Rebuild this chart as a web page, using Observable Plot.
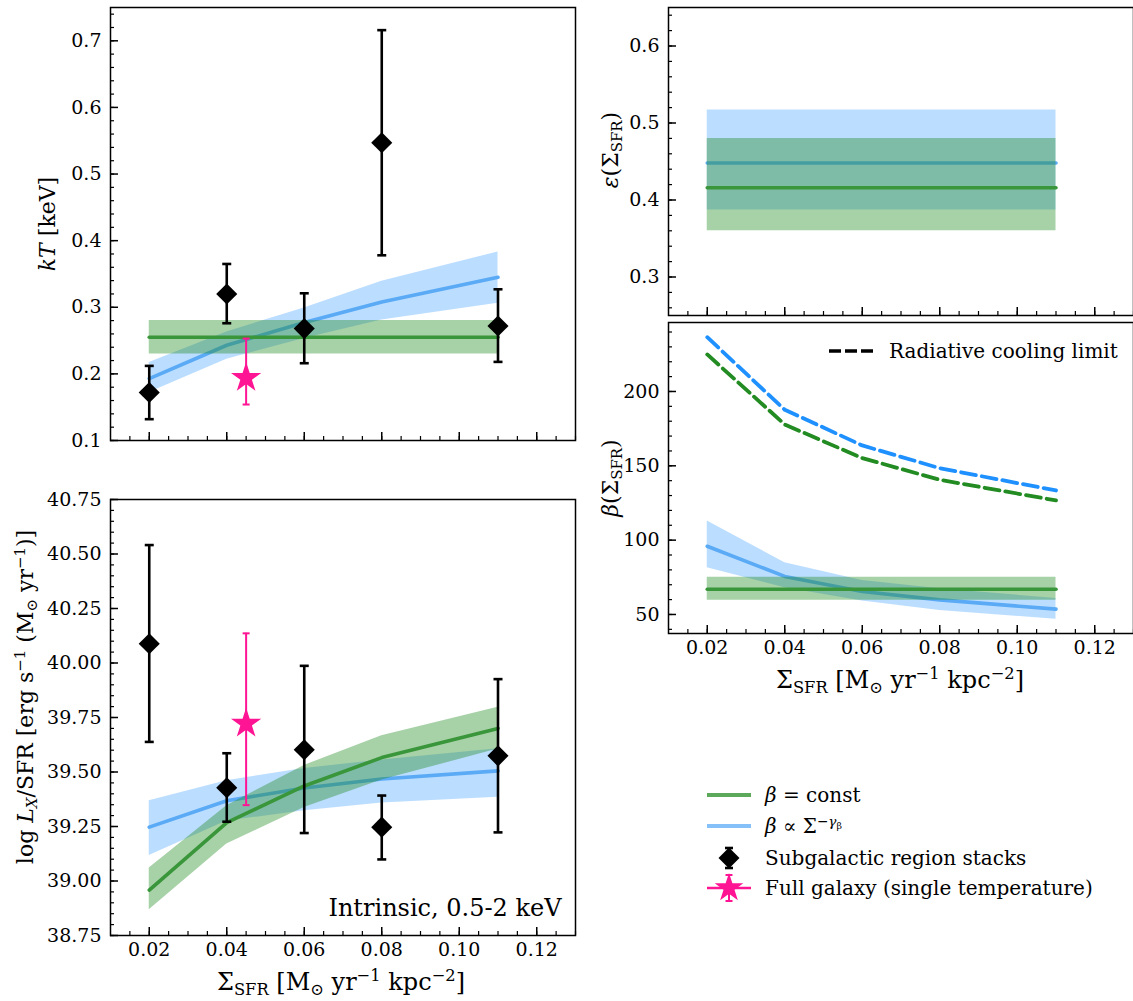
<!DOCTYPE html>
<html><head><meta charset="utf-8">
<script src="https://cdn.jsdelivr.net/npm/d3@7"></script>
<script src="https://cdn.jsdelivr.net/npm/@observablehq/plot@0.6"></script>
<style>
body{margin:0;background:#fff;}
#wrap{position:relative;width:1133px;height:1001px;overflow:hidden;font-family:"DejaVu Serif",serif;color:#000;background:#fff;}
#wrap svg.pl{position:absolute;}
.lab{position:absolute;white-space:nowrap;font-size:22px;line-height:1;}
.rot{transform:translate(-50%,-50%) rotate(-90deg);}
.hz{transform:translate(-50%,-50%);}
sub{font-size:0.68em;vertical-align:-0.3em;line-height:0;}
sup{font-size:0.68em;vertical-align:0.55em;line-height:0;}
.leg{position:absolute;font-size:20px;line-height:1;white-space:nowrap;}
.leg svg{position:absolute;}
</style></head><body><div id="wrap"></div>
<script>
// ---------------- data ----------------
const xStack = [0.02, 0.04, 0.06, 0.08, 0.11];
const xFull = [0.045];
const xModel = [0.02, 0.04, 0.06, 0.08, 0.11];

// kT panel
const kT     = [0.172, 0.320, 0.268, 0.547, 0.272];
const kTLo   = [0.132, 0.276, 0.216, 0.378, 0.218];
const kTHi   = [0.212, 0.365, 0.321, 0.716, 0.327];
const kTFull = [0.194], kTFullLo = [0.154], kTFullHi = [0.253];
const kTConst   = [0.255, 0.255, 0.255, 0.255, 0.255];
const kTConstLo = [0.230, 0.230, 0.230, 0.230, 0.230];
const kTConstHi = [0.280, 0.280, 0.280, 0.280, 0.280];
const kTPow   = [0.193, 0.243, 0.277, 0.308, 0.345];
const kTPowLo = [0.172, 0.222, 0.253, 0.281, 0.306];
const kTPowHi = [0.217, 0.263, 0.299, 0.339, 0.383];

// log Lx/SFR panel
const lx     = [40.088, 39.428, 39.602, 39.247, 39.574];
const lxLo   = [39.638, 39.272, 39.220, 39.099, 39.223];
const lxHi   = [40.541, 39.586, 39.987, 39.392, 39.926];
const lxFull = [39.722], lxFullLo = [39.348], lxFullHi = [40.136];
const lxConst   = [38.958, 39.268, 39.436, 39.566, 39.700];
const lxConstLo = [38.868, 39.170, 39.337, 39.463, 39.605];
const lxConstHi = [39.060, 39.345, 39.530, 39.666, 39.797];
const lxPow   = [39.247, 39.368, 39.427, 39.468, 39.505];
const lxPowLo = [39.117, 39.275, 39.322, 39.358, 39.384];
const lxPowHi = [39.368, 39.460, 39.516, 39.555, 39.607];

// epsilon panel
const epsConst   = [0.416, 0.416, 0.416, 0.416, 0.416];
const epsConstLo = [0.360, 0.360, 0.360, 0.360, 0.360];
const epsConstHi = [0.480, 0.480, 0.480, 0.480, 0.480];
const epsPow   = [0.448, 0.448, 0.448, 0.448, 0.448];
const epsPowLo = [0.387, 0.387, 0.387, 0.387, 0.387];
const epsPowHi = [0.517, 0.517, 0.517, 0.517, 0.517];

// beta panel
const betaConst   = [67.0, 67.0, 67.0, 67.0, 67.0];
const betaConstLo = [59.6, 59.6, 59.6, 59.6, 59.6];
const betaConstHi = [75.1, 75.1, 75.1, 75.1, 75.1];
const betaPow   = [95.9, 75.6, 65.5, 59.8, 53.6];
const betaPowLo = [81.4, 68.0, 59.0, 52.7, 46.8];
const betaPowHi = [112.8, 84.8, 72.9, 67.3, 60.8];
const coolConst = [224.9, 177.8, 155.2, 140.6, 126.7];
const coolPow   = [236.5, 187.7, 163.7, 148.4, 133.4];

// ticks
const xTicks = [0.02, 0.04, 0.06, 0.08, 0.10, 0.12];
const kTTicks = [0.1, 0.2, 0.3, 0.4, 0.5, 0.6, 0.7];
const lxTicks = [38.75, 39.00, 39.25, 39.50, 39.75, 40.00, 40.25, 40.50, 40.75];
const epsTicks = [0.3, 0.4, 0.5, 0.6];
const betaTicks = [50, 100, 150, 200];

// ---------------- helpers ----------------
const BLUE_BAND = "dodgerblue", GREEN_BAND = "forestgreen";
const BLUE_LINE = "#5aaaf5", GREEN_LINE = "#3a963a";
const PINK = "#ff1493";

const rows = (xs, cols) => xs.map((x, i) => {
  const r = {x};
  for (const k in cols) r[k] = cols[k][i];
  return r;
});
const cap = {draw(ctx, size) { const w = Math.sqrt(size / Math.PI); ctx.moveTo(-w, 0); ctx.lineTo(w, 0); }};

function axes(xMin, yMaj, yMin, yFmt, xLabels) {
  const m = [
    Plot.axisX(xMin, {anchor: "bottom", tickSize: -4, tickFormat: () => "", strokeWidth: 1.2, label: null}),
    Plot.axisX(xTicks, {anchor: "bottom", tickSize: -8, tickFormat: () => "", strokeWidth: 1.5, label: null}),
    Plot.axisY(yMin, {anchor: "left", tickSize: -4, tickFormat: () => "", strokeWidth: 1.2, label: null}),
    Plot.axisY(yMaj, {anchor: "left", tickSize: -8, tickFormat: () => "", strokeWidth: 1.5, label: null}),
    Plot.axisY(yMaj, {anchor: "left", tickSize: 0, tickPadding: 9, tickFormat: yFmt, fontSize: 19, label: null})
  ];
  if (xLabels) m.push(Plot.axisX(xTicks, {anchor: "bottom", tickSize: 0, tickPadding: 7, tickFormat: d3.format(".2f"), fontSize: 19, label: null}));
  m.push(Plot.frame({stroke: "black", strokeWidth: 1.5}));
  return m;
}
function band(data, color, op) { return Plot.areaY(data, {x: "x", y1: "lo", y2: "hi", fill: color, fillOpacity: op}); }
function line(data, color, extra = {}) { return Plot.lineY(data, {x: "x", y: "v", stroke: color, strokeWidth: 3.6, ...extra}); }
function errs(data, color, w, capR, symbol, r) {
  return [
    Plot.ruleX(data, {x: "x", y1: "lo", y2: "hi", stroke: color, strokeWidth: w}),
    Plot.dot(data, {x: "x", y: "lo", symbol: cap, r: capR, stroke: color, strokeWidth: w, fill: "none"}),
    Plot.dot(data, {x: "x", y: "hi", symbol: cap, r: capR, stroke: color, strokeWidth: w, fill: "none"}),
    Plot.dot(data, {x: "x", y: "v", symbol, r, fill: color, stroke: "none"})
  ];
}
const xMinor = d3.range(0.015, 0.1301, 0.005);
const xDomain = [0.01, 0.13];
const wrap = document.getElementById("wrap");
function place(svg, left, top) {
  svg.classList.add("pl");
  svg.style.left = left + "px"; svg.style.top = top + "px";
  wrap.appendChild(svg);
}
const style = {fontFamily: "DejaVu Serif", fontSize: "19px", background: "transparent", overflow: "visible", color: "black"};

// ---------------- top-left: kT ----------------
place(Plot.plot({
  width: 590, height: 470, marginLeft: 110, marginRight: 15, marginTop: 7, marginBottom: 30,
  style,
  x: {domain: xDomain}, y: {domain: [0.1, 0.75]},
  marks: [
    band(rows(xModel, {lo: kTPowLo, hi: kTPowHi}), BLUE_BAND, 0.3),
    line(rows(xModel, {v: kTPow}), BLUE_LINE),
    band(rows(xModel, {lo: kTConstLo, hi: kTConstHi}), GREEN_BAND, 0.4),
    line(rows(xModel, {v: kTConst}), GREEN_LINE),
    ...errs(rows(xStack, {v: kT, lo: kTLo, hi: kTHi}), "black", 2.6, 4.5, "diamond2", 9.5),
    ...errs(rows(xFull, {v: kTFull, lo: kTFullLo, hi: kTFullHi}), PINK, 2, 3.5, "star", 9.5),
    ...axes(xMinor, kTTicks, d3.range(0.1, 0.7501, 0.02), d3.format(".1f"), false)
  ]
}), 0, 0);

// ---------------- bottom-left: Lx/SFR ----------------
place(Plot.plot({
  width: 590, height: 500, marginLeft: 110, marginRight: 15, marginTop: 19, marginBottom: 45,
  style,
  x: {domain: xDomain}, y: {domain: [38.75, 40.75]},
  marks: [
    band(rows(xModel, {lo: lxPowLo, hi: lxPowHi}), BLUE_BAND, 0.3),
    line(rows(xModel, {v: lxPow}), BLUE_LINE),
    band(rows(xModel, {lo: lxConstLo, hi: lxConstHi}), GREEN_BAND, 0.4),
    line(rows(xModel, {v: lxConst}), GREEN_LINE),
    ...errs(rows(xStack, {v: lx, lo: lxLo, hi: lxHi}), "black", 2.6, 4.5, "diamond2", 9.5),
    ...errs(rows(xFull, {v: lxFull, lo: lxFullLo, hi: lxFullHi}), PINK, 2, 3.5, "star", 9.5),
    ...axes(xMinor, lxTicks, d3.range(38.75, 40.7501, 0.05), d3.format(".2f"), true)
  ]
}), 0, 480);

// ---------------- top-right: epsilon ----------------
place(Plot.plot({
  width: 553, height: 330, marginLeft: 88, marginRight: 0, marginTop: 7, marginBottom: 15,
  style,
  x: {domain: xDomain}, y: {domain: [0.25, 0.65]},
  marks: [
    band(rows(xModel, {lo: epsPowLo, hi: epsPowHi}), BLUE_BAND, 0.3),
    line(rows(xModel, {v: epsPow}), BLUE_LINE),
    band(rows(xModel, {lo: epsConstLo, hi: epsConstHi}), GREEN_BAND, 0.4),
    line(rows(xModel, {v: epsConst}), GREEN_LINE),
    ...axes(xMinor, epsTicks, d3.range(0.26, 0.6401, 0.02), d3.format(".1f"), false)
  ]
}), 580, 0);

// ---------------- bottom-right: beta ----------------
place(Plot.plot({
  width: 553, height: 360, marginLeft: 88, marginRight: 0, marginTop: 4, marginBottom: 45,
  style,
  x: {domain: xDomain}, y: {domain: [37.2, 246.4]},
  marks: [
    band(rows(xModel, {lo: betaPowLo, hi: betaPowHi}), BLUE_BAND, 0.3),
    line(rows(xModel, {v: betaPow}), BLUE_LINE),
    band(rows(xModel, {lo: betaConstLo, hi: betaConstHi}), GREEN_BAND, 0.4),
    line(rows(xModel, {v: betaConst}), GREEN_LINE),
    line(rows(xModel, {v: coolPow}), "dodgerblue", {strokeDasharray: "15,6", strokeWidth: 3.8}),
    line(rows(xModel, {v: coolConst}), "forestgreen", {strokeDasharray: "15,6", strokeWidth: 3.8}),
    ...axes(xMinor, betaTicks, d3.range(40, 240.01, 10), d3.format("d"), true)
  ]
}), 580, 318);

// ---------------- labels ----------------
function lab(html, x, y, cls, size) {
  const d = document.createElement("div");
  d.className = "lab " + cls; d.innerHTML = html;
  d.style.left = x + "px"; d.style.top = y + "px";
  if (size) d.style.fontSize = size + "px";
  wrap.appendChild(d);
}
const xlab = 'Σ<sub>SFR</sub> [M<sub>⊙</sub> yr<sup>−1</sup> kpc<sup>−2</sup>]';
lab('<i>kT</i> [keV]', 48, 224, "rot");
lab('log <i>L<sub>X</sub></i>/SFR [erg s<sup>−1</sup> (M<sub>⊙</sub> yr<sup>−1</sup>)]', 26, 697, "rot");
lab('<i>ε</i>(Σ<sub>SFR</sub>)', 611, 150, "rot");
lab('<i>β</i>(Σ<sub>SFR</sub>)', 611, 478, "rot");
lab(xlab, 341, 982, "hz", 24);
lab(xlab, 900, 680, "hz", 24);
lab('Intrinsic, 0.5-2 keV', 445, 908, "hz", 24);

// ---------------- legends ----------------
function leg(html, textX, cy, handle) {
  const d = document.createElement("div");
  d.className = "leg"; d.innerHTML = html;
  d.style.left = textX + "px"; d.style.top = (cy - 10) + "px";
  wrap.appendChild(d);
  if (handle) {
    const s = document.createElementNS("http://www.w3.org/2000/svg", "svg");
    s.setAttribute("width", 60); s.setAttribute("height", 40);
    s.style.position = "absolute"; s.style.left = (textX - 60) + "px"; s.style.top = (cy - 20) + "px";
    s.innerHTML = handle;
    wrap.appendChild(s);
  }
}
leg('Radiative cooling limit', 889, 351,
  '<line x1="0" y1="20" x2="44" y2="20" stroke="black" stroke-width="3.4" stroke-dasharray="12,4"/>');
leg('<i>β</i> = const', 765, 795,
  '<line x1="2" y1="20" x2="46" y2="20" stroke="#5ca95c" stroke-width="4"/>');
leg('<i>β</i> ∝ Σ<sup>−<i>γ</i><sub style="font-size:0.7em">β</sub></sup>', 765, 826,
  '<line x1="2" y1="20" x2="46" y2="20" stroke="#86c0f8" stroke-width="4"/>');
leg('Subgalactic region stacks', 765, 858,
  '<line x1="24" y1="10" x2="24" y2="30" stroke="black" stroke-width="2.6"/>' +
  '<line x1="20" y1="10" x2="28" y2="10" stroke="black" stroke-width="2.6"/>' +
  '<line x1="20" y1="30" x2="28" y2="30" stroke="black" stroke-width="2.6"/>' +
  '<path d="M24,9.5 L34.5,20 L24,30.5 L13.5,20 Z" fill="black"/>');
leg('Full galaxy (single temperature)', 765, 888,
  '<line x1="2" y1="20" x2="46" y2="20" stroke="' + PINK + '" stroke-width="2.5"/>' +
  '<line x1="24" y1="7" x2="24" y2="33" stroke="' + PINK + '" stroke-width="2"/>' +
  '<line x1="20.5" y1="7" x2="27.5" y2="7" stroke="' + PINK + '" stroke-width="2"/>' +
  '<line x1="20.5" y1="33" x2="27.5" y2="33" stroke="' + PINK + '" stroke-width="2"/>' +
  '<path transform="translate(24,20)" d="' + d3.symbol(d3.symbolStar, Math.PI * 9 * 9)() + '" fill="' + PINK + '"/>');
</script></body></html>
